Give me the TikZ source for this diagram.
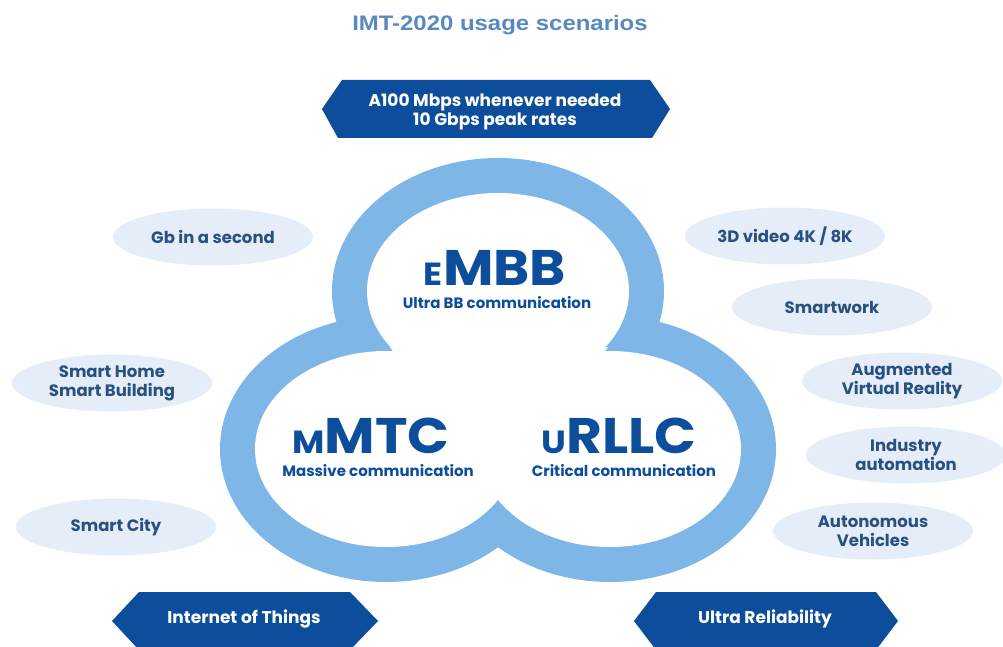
\documentclass[tikz,border=0pt]{standalone}
\usepackage{graphicx}
\usepackage{fontspec}
\setmainfont{Poppins}
\newfontfamily\titlefont{Liberation Sans}
\usetikzlibrary{shapes.geometric}
\definecolor{ringblue}{RGB}{127,182,232}
\definecolor{navy}{RGB}{12,78,156}
\definecolor{bubblefill}{RGB}{229,238,248}
\definecolor{bubbletext}{RGB}{40,80,128}
\definecolor{titleblue}{RGB}{88,138,192}
\begin{document}
\begin{tikzpicture}[x=1pt,y=-1pt,
  bubble/.style={ellipse, fill=bubblefill, minimum width=200pt, minimum height=57pt,
    inner sep=0pt, text=bubbletext, font=\fontsize{16.5}{19}\selectfont\bfseries, align=center},
  bannerfill/.style={fill=navy},
  bannertext/.style={text=white, font=\fontsize{17}{18.5}\selectfont\bfseries, align=center, inner sep=0pt},
  bigtext/.style={text=navy, font=\fontsize{50}{50}\selectfont\bfseries, inner sep=0pt, anchor=base,
    text height=36pt, text depth=0pt},
  subtext/.style={text=navy, font=\fontsize{15}{15}\selectfont\bfseries, inner sep=0pt, anchor=base,
    text height=11pt, text depth=3pt},
  outerring/.style={fill=ringblue},
  innerdisk/.style={fill=white}
]
\clip (0,0) rectangle (1003,647);
\fill[white] (0,0) rectangle (1003,647);

% title
\node[text=titleblue, font=\titlefont\bfseries\fontsize{21}{21}\selectfont, anchor=base, inner sep=0pt]
  (title) at (500,31) {\scalebox{1.14}[1]{IMT-2020 usage scenarios}};

% top banner
\fill[bannerfill] (322,109) -- (342,80) -- (650,80) -- (670,109) -- (652,138) -- (338,138) -- cycle;
\node[bannertext] (peak) at (495,112) {A100 Mbps whenever needed\\10 Gbps peak rates};

% trefoil rings
\fill[outerring] (498,291) ellipse [x radius=166pt, y radius=133pt];
\fill[outerring] (386,449) ellipse [x radius=166pt, y radius=133pt];
\fill[outerring] (610,449) ellipse [x radius=166pt, y radius=133pt];
\fill[innerdisk] (498,291) ellipse [x radius=131pt, y radius=98pt];
\fill[innerdisk] (386,449) ellipse [x radius=131pt, y radius=98pt];
\fill[innerdisk] (610,449) ellipse [x radius=131pt, y radius=98pt];
\fill[innerdisk] (390,347) -- (608,347) -- (497,497) -- cycle;

% centre labels
\node[bigtext] (embb) at (495,285) {\scalebox{1.1}[1]{{\fontsize{32}{32}\selectfont E}MBB}};
\node[subtext] (embbsub) at (497,308) {Ultra BB communication};
\node[bigtext] (mmtc) at (371,453) {\scalebox{1.1}[1]{{\fontsize{32}{32}\selectfont M}MTC}};
\node[subtext] (mmtcsub) at (378,476) {Massive communication};
\node[bigtext] (urllc) at (619,453) {\scalebox{1.1}[1]{{\fontsize{32}{32}\selectfont U}RLLC}};
\node[subtext] (urllcsub) at (624,476) {Critical communication};

% bubbles left
\node[bubble] (gb) at (213,237) {Gb in a second};
\node[bubble] (home) at (112,383) {Smart Home\\Smart Building};
\node[bubble] (city) at (116,527) {Smart City};
% bubbles right
\node[bubble] (video) at (785,236) {3D video 4K / 8K};
\node[bubble] (work) at (832,307) {Smartwork};
\node[bubble] (avr) at (902,381) {Augmented\\Virtual Reality};
\node[bubble] (ind) at (906,455) {Industry\\automation};
\node[bubble] (auto) at (873,531) {Autonomous\\Vehicles};

% bottom banners
\fill[bannerfill] (112,621) -- (139,592) -- (350,592) -- (378,621) -- (350,650) -- (139,650) -- cycle;
\node[bannertext] (iot) at (244,619) {Internet of Things};
\fill[bannerfill] (634,621) -- (656,592) -- (876,592) -- (898,621) -- (876,650) -- (656,650) -- cycle;
\node[bannertext] (rel) at (765,619) {Ultra Reliability};
\end{tikzpicture}
\end{document}
